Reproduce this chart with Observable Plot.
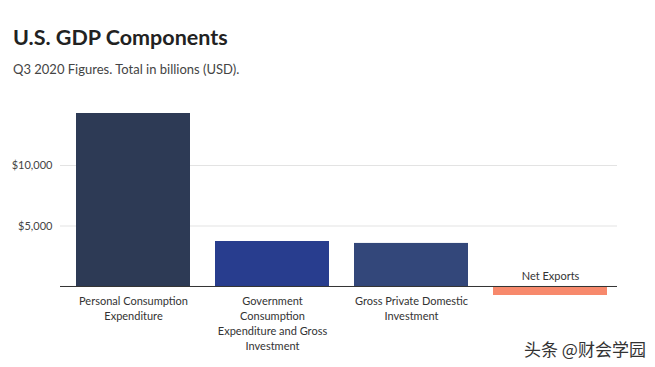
<!DOCTYPE html>
<html><head><meta charset="utf-8">
<script src="https://cdn.jsdelivr.net/npm/d3@7"></script>
<script src="https://cdn.jsdelivr.net/npm/@observablehq/plot@0.6"></script>
<style>
body{margin:0;background:#fff;width:655px;height:367px;overflow:hidden;position:relative;font-family:Lato,"Noto Sans",sans-serif;}
#title{position:absolute;left:13px;top:24px;font-size:21.5px;font-weight:700;color:#222;}
#sub{position:absolute;left:13px;top:61px;font-size:13px;color:#444;}
#chart{position:absolute;left:0;top:95px;}
#wm{position:absolute;left:524px;top:336px;font-size:17px;color:#333;font-family:"Noto Sans CJK SC",sans-serif;}
</style></head>
<body>
<div id="title">U.S. GDP Components</div>
<div id="sub">Q3 2020 Figures. Total in billions (USD).</div>
<div id="chart"></div>
<div id="wm">头条 @财会学园</div>
<script>
const categories = ["Personal Consumption\nExpenditure","Government\nConsumption\nExpenditure and Gross\nInvestment","Gross Private Domestic\nInvestment","Net Exports"];
const values = [14300, 3720, 3560, -744];
const colors = ["#2d3a55","#283d8e","#33477a","#f7896c"];
const yTicks = [5000, 10000];
const data = categories.map((c,i)=>({c, v: values[i], col: colors[i]}));
const plot = Plot.plot({
  width: 655, height: 272,
  marginLeft: 60, marginRight: 38, marginTop: 18, marginBottom: 72,
  style: {fontFamily: "Lato, 'Noto Sans', sans-serif", fontSize: "11px", color: "#444"},
  x: {domain: categories, axis: null, paddingInner: 0.18, paddingOuter: 0.085, align: 0.62},
  y: {ticks: yTicks, tickSize: 0, tickPadding: 8, tickFormat: d => "$" + d3.format(",")(d), label: null},
  marks: [
    Plot.gridY(yTicks, {stroke: "#e3e3e3", strokeOpacity: 1}),
    Plot.barY(data, {x: "c", y: "v", fill: "col"}),
    Plot.ruleY([0], {stroke: "#333"}),
    Plot.text(data.filter(d=>d.v>=0), {x: "c", y: 0, text: "c", lineAnchor: "top", dy: 8, lineHeight: 1.36, fill: "#333", fontSize: 11}),
    Plot.text(data.filter(d=>d.v<0), {x: "c", y: 0, text: "c", lineAnchor: "bottom", dy: -6, fill: "#333", fontSize: 11})
  ]
});
document.getElementById("chart").append(plot);
</script>
</body></html>
